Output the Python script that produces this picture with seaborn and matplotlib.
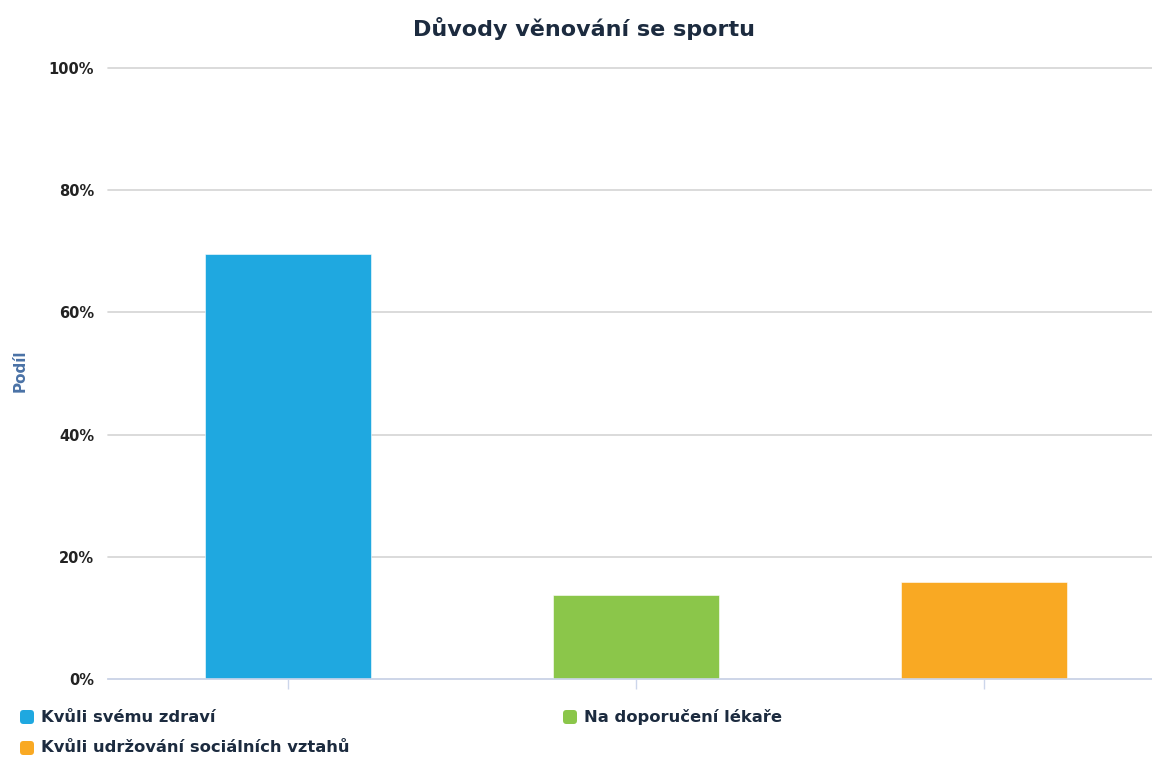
import matplotlib
matplotlib.use("Agg")
import matplotlib.pyplot as plt
from matplotlib.patches import FancyBboxPatch
from matplotlib.ticker import FuncFormatter
import seaborn as sns
import pandas as pd

# Data
categories = ["Kvůli svému zdraví", "Na doporučení lékaře", "Kvůli udržování sociálních vztahů"]
shares = [69.6, 13.7, 15.9]
colors = ["#1fa8e0", "#8bc64a", "#f9a923"]
y_ticks = [0, 20, 40, 60, 80, 100]

title = "Důvody věnování se sportu"
y_label = "Podíl"

sns.set_theme(style="white")
plt.rcParams["font.family"] = ["DejaVu Sans"]

text_color = "#1c2b3f"

fig = plt.figure(figsize=(11.52, 7.6), dpi=100)
ax = fig.add_axes([108 / 1152, 81 / 760, 1044 / 1152, 611 / 760])

df = pd.DataFrame({"reason": categories, "share": shares})
sns.barplot(data=df, x="reason", y="share", hue="reason", palette=colors,
            order=categories, hue_order=categories, dodge=False, legend=False,
            width=0.477, saturation=1, ax=ax, edgecolor="white", linewidth=0.4,
            zorder=3)

ax.set_xlim(-0.517, 2.483)
ax.set_ylim(0, 100)
ax.set_yticks(y_ticks)
ax.yaxis.set_major_formatter(FuncFormatter(lambda v, p: f"{int(v)}%"))
ax.grid(axis="y", color="#d4d4d4", linewidth=1.2, zorder=0)
for gl in ax.get_ygridlines():
    gl.set_clip_on(False)
ax.grid(axis="x", visible=False)

for side in ["top", "right", "left"]:
    ax.spines[side].set_visible(False)
ax.spines["bottom"].set_color("#ccd6eb")
ax.spines["bottom"].set_linewidth(1.2)
ax.spines["bottom"].set_zorder(4)

ax.tick_params(axis="x", which="both", bottom=True, length=7, width=1,
               color="#ccd6eb", labelbottom=False)
ax.tick_params(axis="y", length=0, pad=10, labelsize=10.5, labelcolor="#222222")
for lbl in ax.get_yticklabels():
    lbl.set_fontweight("bold")
    lbl.set_horizontalalignment("right")

ax.set_xlabel("")
ax.set_ylabel(y_label, fontsize=11, fontweight="bold", color="#4a72a6")
ax.yaxis.set_label_coords(-80 / 1044, 0.505)

fig.text(584 / 1152, 1 - 28 / 760, title, ha="center", va="center",
         fontsize=16, fontweight="bold", color=text_color)

# Legend with rounded square markers
legend_pos = [(20, 717), (563, 717), (20, 748)]
for (px, py), label, col in zip(legend_pos, categories, colors):
    fx = px / 1152
    fy = 1 - py / 760
    box = FancyBboxPatch((fx, fy - 7 / 760), 14 / 1152, 14 / 760,
                         boxstyle="round,pad=0,rounding_size=0.003",
                         transform=fig.transFigure, facecolor=col,
                         edgecolor="none", mutation_aspect=1152 / 760)
    fig.patches.append(box)
    fig.text(fx + 21 / 1152, fy, label, ha="left", va="center",
             fontsize=11.8, fontweight="bold", color=text_color)

fig.savefig("out.png", dpi=100, facecolor="white")
